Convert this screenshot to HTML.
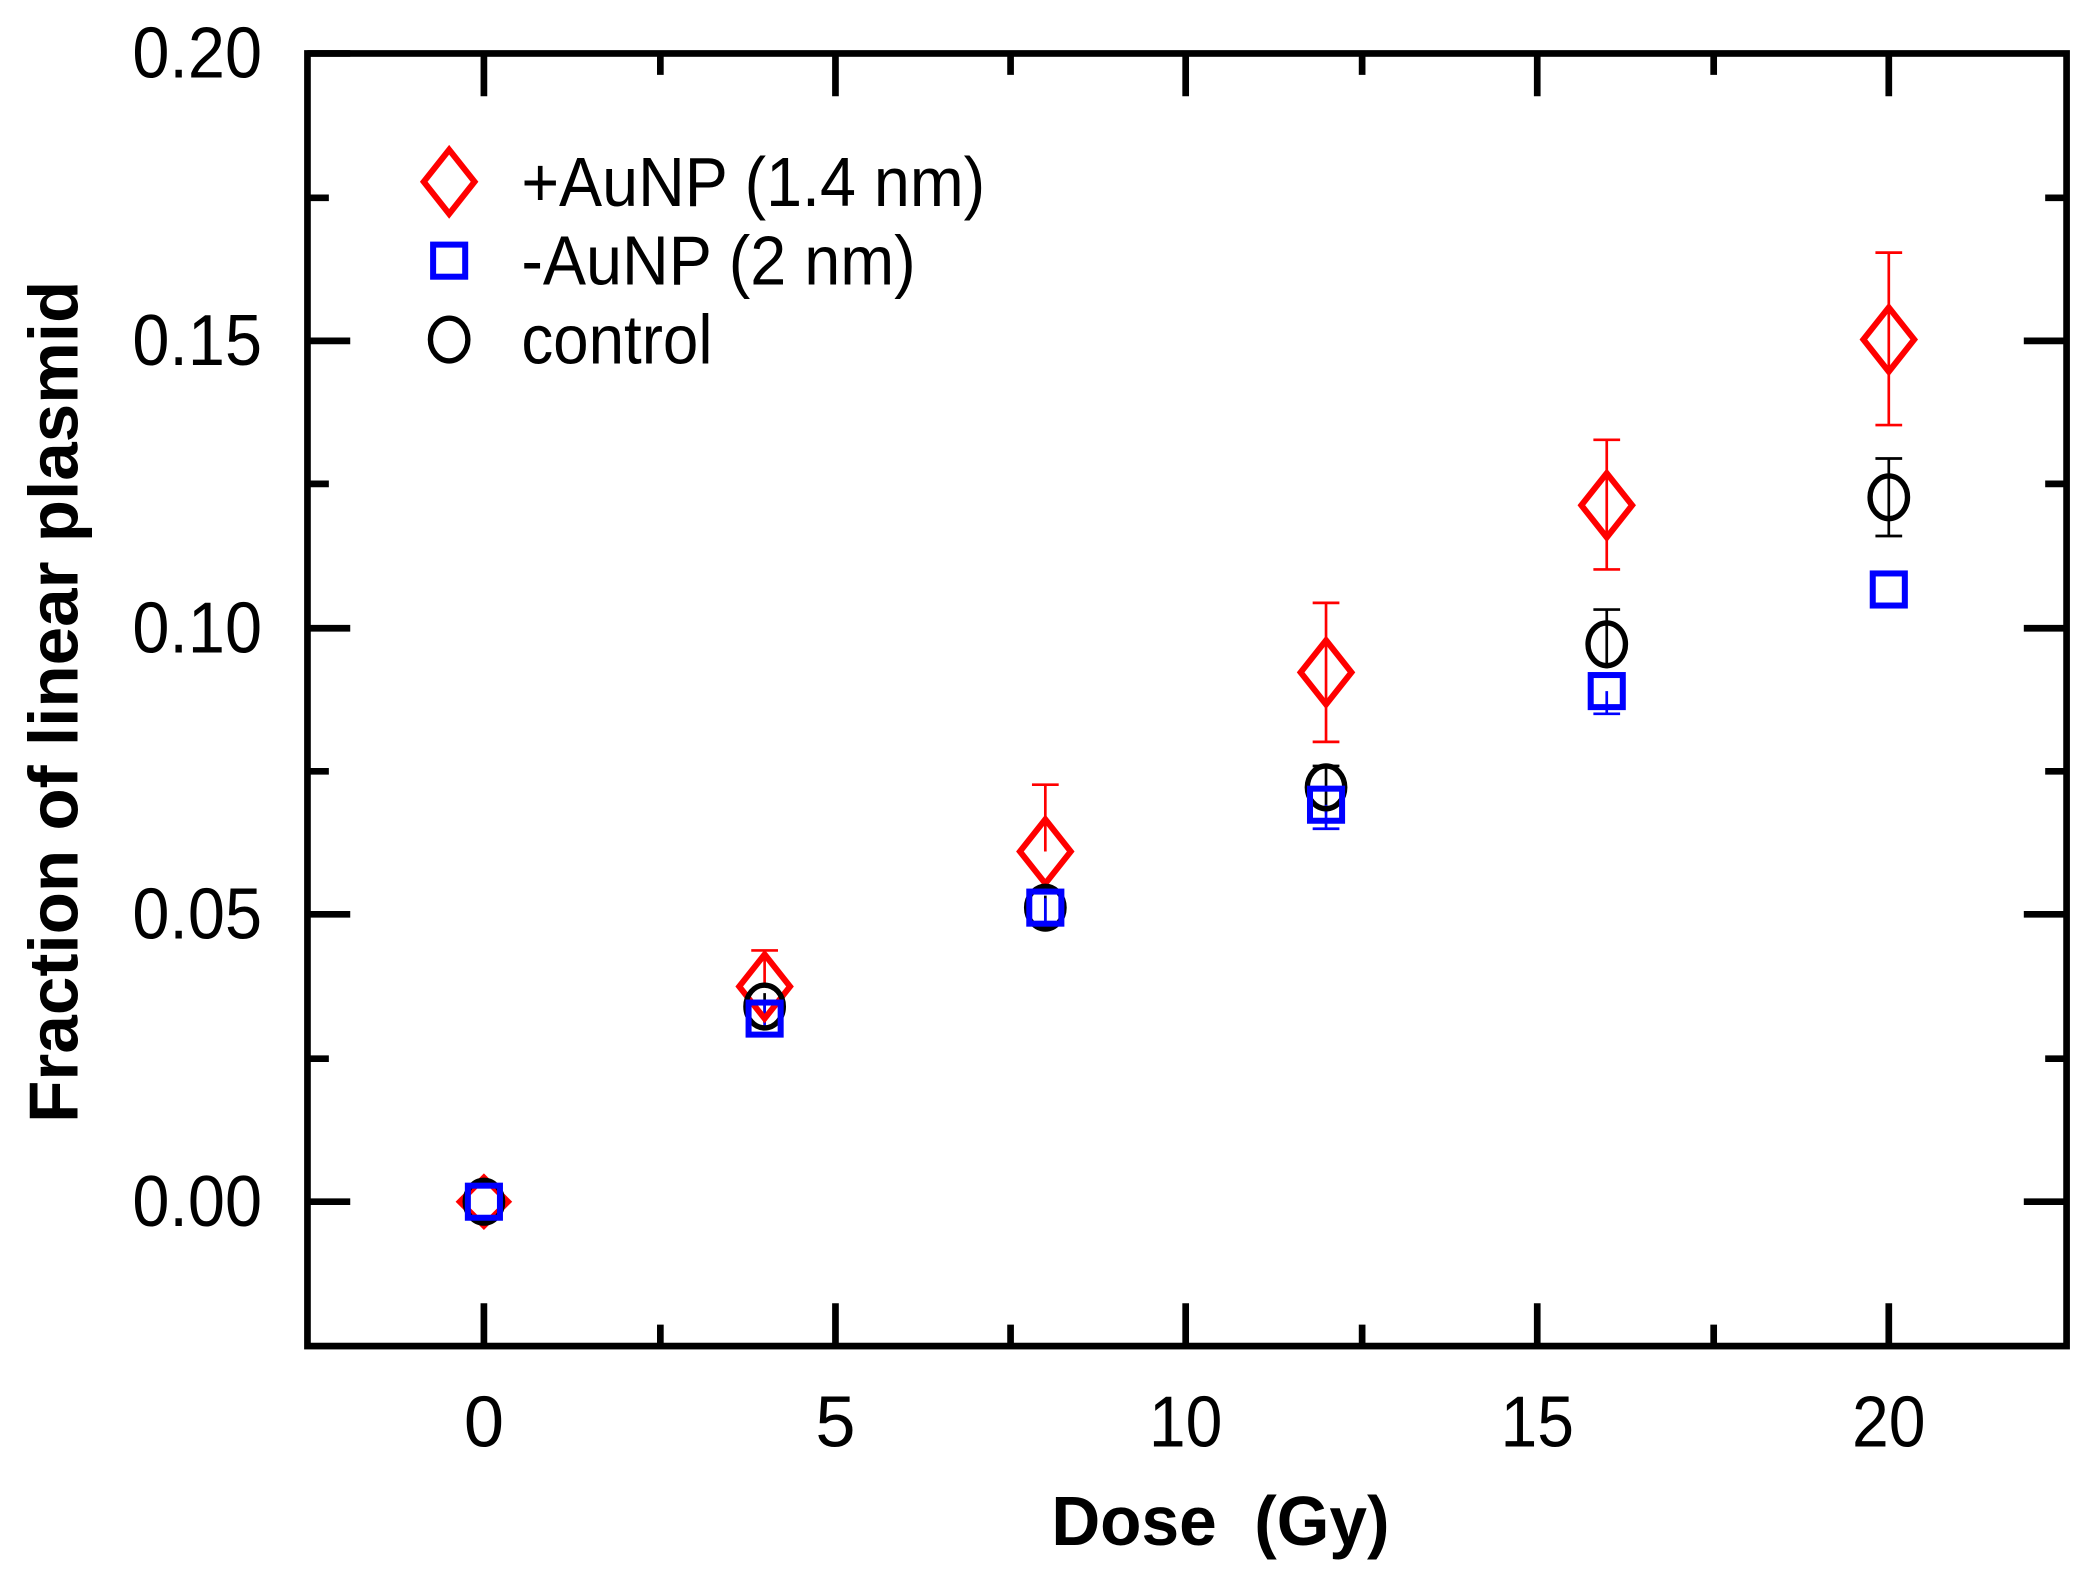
<!DOCTYPE html>
<html><head><style>html,body{margin:0;padding:0;background:#fff}svg{display:block}</style></head>
<body>
<svg width="2096" height="1582" viewBox="0 0 1568 1183.5" xmlns="http://www.w3.org/2000/svg" font-family="Liberation Sans, Arial, sans-serif">
<rect x="0" y="0" width="1568" height="1183.5" fill="#fff"/>
<g stroke="#000" stroke-width="5" fill="none">
<rect x="230" y="40" width="1316" height="967"/>
<path d="M362,1007v-32M625,1007v-32M887,1007v-32M1150,1007v-32M1413,1007v-32M362,40v32M625,40v32M887,40v32M1150,40v32M1413,40v32"/>
<path d="M494,1007v-16M756,1007v-16M1019,1007v-16M1282,1007v-16M494,40v16M756,40v16M1019,40v16M1282,40v16"/>
<path d="M230,40h32M230,255h32M230,470h32M230,684h32M230,899h32M1546,255h-32M1546,470h-32M1546,684h-32M1546,899h-32"/>
<path d="M230,148h16M230,362h16M230,577h16M230,792h16M1546,148h-16M1546,362h-16M1546,577h-16M1546,792h-16"/>
</g>
<g font-size="54" fill="#000" text-anchor="end">
<text x="196" y="58" textLength="97" lengthAdjust="spacingAndGlyphs">0.20</text>
<text x="196" y="273" textLength="97" lengthAdjust="spacingAndGlyphs">0.15</text>
<text x="196" y="488" textLength="97" lengthAdjust="spacingAndGlyphs">0.10</text>
<text x="196" y="702" textLength="97" lengthAdjust="spacingAndGlyphs">0.05</text>
<text x="196" y="917" textLength="97" lengthAdjust="spacingAndGlyphs">0.00</text>
</g>
<g font-size="54" fill="#000" text-anchor="middle">
<text x="362" y="1082">0</text>
<text x="625" y="1082">5</text>
<text x="887" y="1082" textLength="55" lengthAdjust="spacingAndGlyphs">10</text>
<text x="1150" y="1082" textLength="55" lengthAdjust="spacingAndGlyphs">15</text>
<text x="1413" y="1082" textLength="55" lengthAdjust="spacingAndGlyphs">20</text>
</g>
<text x="913" y="1156" font-size="52" font-weight="bold" text-anchor="middle" xml:space="preserve" textLength="253" lengthAdjust="spacingAndGlyphs">Dose  (Gy)</text>
<text transform="translate(58,525) rotate(-90)" font-size="52" font-weight="bold" text-anchor="middle" textLength="630" lengthAdjust="spacingAndGlyphs">Fraction of linear plasmid</text>
<g stroke="#f00" stroke-width="2">
<path d="M572,738V711M562,711h20M782,637V587M772,587h20M992,451V555M982,451h20M982,555h20M1202,329V426M1192,329h20M1192,426h20M1413,189V318M1403,189h20M1403,318h20"/>
</g>
<g stroke="#000" stroke-width="2">
<path d="M992,573V608M982,573h20M1202,456V500M1192,456h20M1413,343V401M1403,343h20M1403,401h20M572,743V765M782,670V690"/>
</g>
<g stroke="#00f" stroke-width="2">
<path d="M992,602V620M982,620h20M1202,517V534M1192,534h20M572,752V770M782,672V692"/>
</g>
<g stroke="#f00" stroke-width="4.5" fill="none">
<path d="M362,881l18,18l-18,18l-18,-18z"/>
<path d="M572,714l19,24l-19,24l-19,-24z"/>
<path d="M782,613l19,24l-19,24l-19,-24z"/>
<path d="M992,479l19,24l-19,24l-19,-24z"/>
<path d="M1202,354l19,24l-19,24l-19,-24z"/>
<path d="M1413,230l19,24l-19,24l-19,-24z"/>
<path d="M336,112l19,24l-19,24l-19,-24z"/>
</g>
<g stroke="#000" stroke-width="4" fill="none">
<ellipse cx="362" cy="899" rx="14" ry="16"/>
<ellipse cx="572" cy="753" rx="14" ry="16"/>
<ellipse cx="782" cy="679" rx="14" ry="16"/>
<ellipse cx="992" cy="589" rx="14" ry="16"/>
<ellipse cx="1202" cy="482" rx="14" ry="16"/>
<ellipse cx="1413" cy="372" rx="14" ry="16"/>
<ellipse cx="336" cy="254" rx="14" ry="16"/>
</g>
<g stroke="#00f" stroke-width="4.5" fill="none">
<rect x="350" y="887" width="24" height="24"/>
<rect x="560" y="750" width="24" height="24"/>
<rect x="770" y="667" width="24" height="24"/>
<rect x="980" y="590" width="24" height="24"/>
<rect x="1190" y="505" width="24" height="24"/>
<rect x="1401" y="429" width="24" height="24"/>
<rect x="324" y="183" width="24" height="24"/>
</g>
<g font-size="52" fill="#000">
<text x="390" y="154" textLength="347" lengthAdjust="spacingAndGlyphs">+AuNP (1.4 nm)</text>
<text x="390" y="213" textLength="295" lengthAdjust="spacingAndGlyphs">-AuNP (2 nm)</text>
<text x="390" y="272" textLength="143" lengthAdjust="spacingAndGlyphs">control</text>
</g>
</svg>
</body></html>
